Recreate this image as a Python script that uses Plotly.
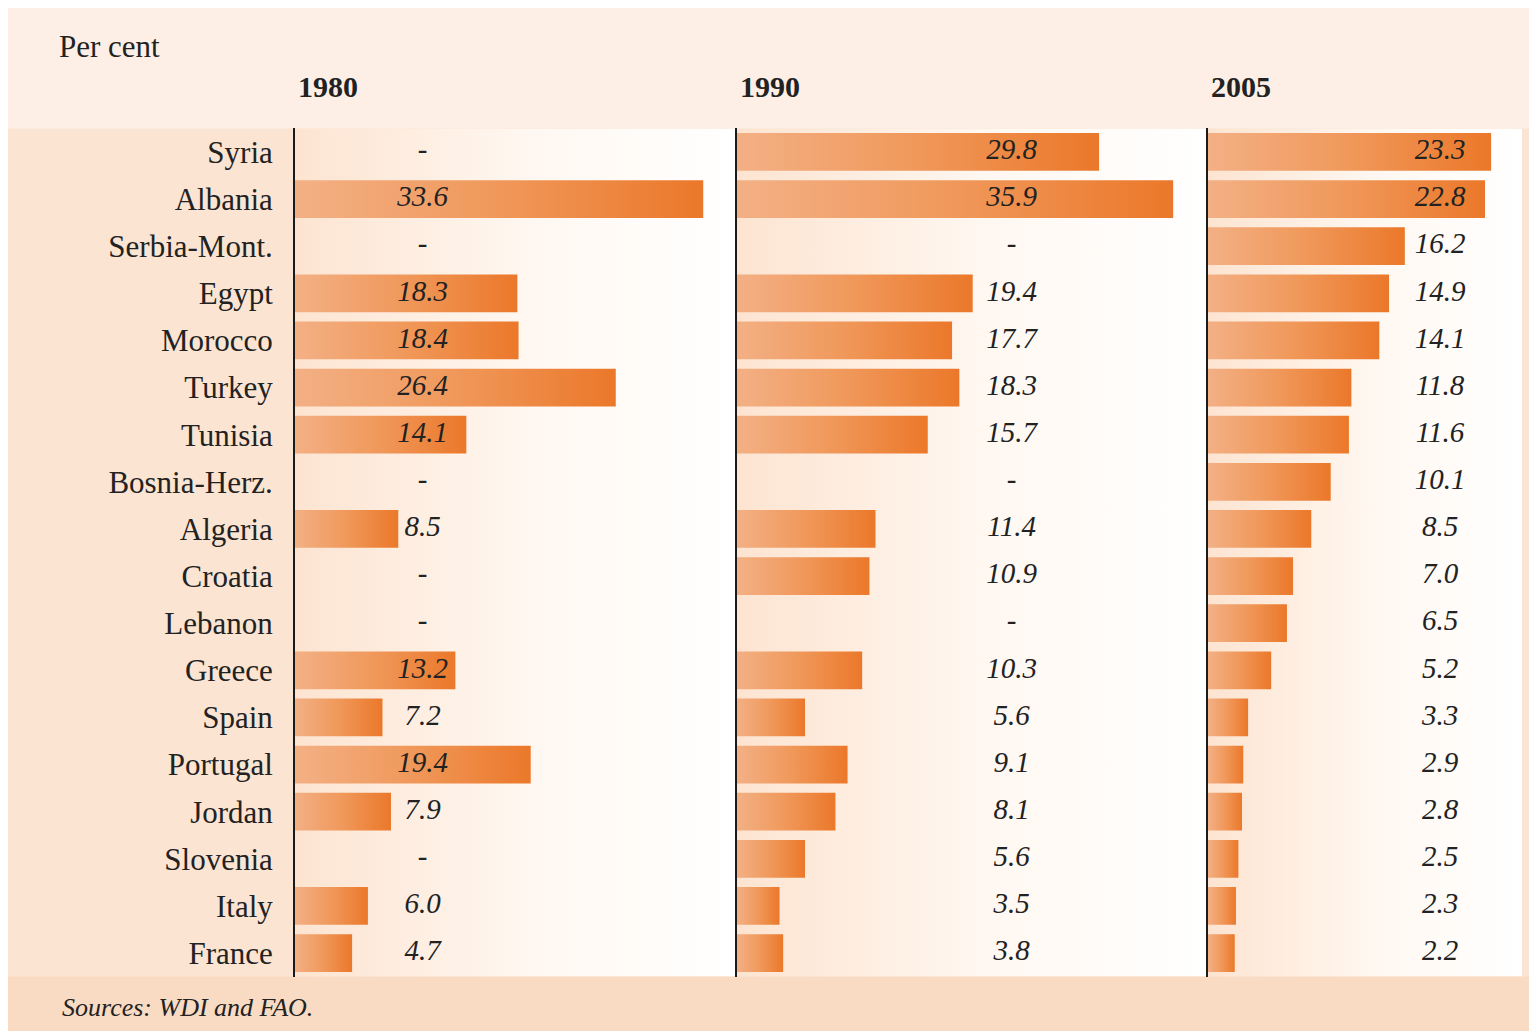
import plotly.graph_objects as go

countries = ["Syria", "Albania", "Serbia-Mont.", "Egypt", "Morocco", "Turkey", "Tunisia",
             "Bosnia-Herz.", "Algeria", "Croatia", "Lebanon", "Greece", "Spain", "Portugal",
             "Jordan", "Slovenia", "Italy", "France"]
years = ["1980", "1990", "2005"]
v1980 = [None, 33.6, None, 18.3, 18.4, 26.4, 14.1, None, 8.5, None, None, 13.2, 7.2, 19.4, 7.9, None, 6.0, 4.7]
v1990 = [29.8, 35.9, None, 19.4, 17.7, 18.3, 15.7, None, 11.4, 10.9, None, 10.3, 5.6, 9.1, 8.1, 5.6, 3.5, 3.8]
v2005 = [23.3, 22.8, 16.2, 14.9, 14.1, 11.8, 11.6, 10.1, 8.5, 7.0, 6.5, 5.2, 3.3, 2.9, 2.8, 2.5, 2.3, 2.2]
series = [v1980, v1990, v2005]

OFF = 8  # page body margin
W, H = 1537 - OFF, 1031 - OFF


def px(xp):
    return (xp - OFF) / W


def py(yp):
    return 1 - (yp - OFF) / H


PXU = 12.15  # pixels per unit
panel_px = [(295, 737), (737, 1208), (1208, 1522)]
label_x = [10.5, 22.6, 19.1]
SERIF = "Liberation Serif"
BAR_CS = [[0, "#f3b085"], [0.5, "#f0985a"], [1, "#eb782a"]]
BG_CS = [[0, "#fde4d1"], [0.55, "#fff8f2"], [1, "#ffffff"]]
half = 0.4
n = len(countries)

fig = go.Figure()
for p, vals in enumerate(series):
    xa = "x" if p == 0 else f"x{p+1}"
    ya = "y" if p == 0 else f"y{p+1}"
    xmax = (panel_px[p][1] - panel_px[p][0]) / PXU
    fig.add_trace(go.Scatter(
        x=[0, xmax, xmax, 0, 0], y=[-0.5, -0.5, n - 0.5, n - 0.5, -0.5],
        fill="toself", mode="lines", line=dict(width=0),
        fillgradient=dict(type="horizontal", colorscale=BG_CS),
        hoverinfo="skip", showlegend=False, xaxis=xa, yaxis=ya))
    for i, v in enumerate(vals):
        if v is None:
            continue
        fig.add_trace(go.Scatter(
            x=[0, v, v, 0, 0], y=[i - half, i - half, i + half, i + half, i - half],
            fill="toself", mode="lines", line=dict(width=0),
            fillgradient=dict(type="horizontal", colorscale=BAR_CS),
            hoverinfo="skip", showlegend=False, xaxis=xa, yaxis=ya))
    texts = ["-" if v is None else f"{v:.1f}" for v in vals]
    fig.add_trace(go.Scatter(
        x=[label_x[p]] * n, y=list(range(n)), mode="text", text=texts,
        textposition="middle center",
        textfont=dict(family=SERIF, size=29, color="#222222", style="italic"),
        hoverinfo="skip", showlegend=False, xaxis=xa, yaxis=ya))

y_dom = [py(976.6), py(128.4)]
layout = dict(
    width=W, height=H,
    margin=dict(l=0, r=0, t=0, b=0),
    paper_bgcolor="#fbe4d2",
    plot_bgcolor="rgba(0,0,0,0)",
    showlegend=False,
    font=dict(family=SERIF, color="#222222"),
)
for p in range(3):
    xk = "xaxis" if p == 0 else f"xaxis{p+1}"
    yk = "yaxis" if p == 0 else f"yaxis{p+1}"
    xmax = (panel_px[p][1] - panel_px[p][0]) / PXU
    layout[xk] = dict(domain=[px(panel_px[p][0]), px(panel_px[p][1])], range=[0, xmax],
                      visible=False, fixedrange=True,
                      anchor="y" if p == 0 else f"y{p+1}")
    layout[yk] = dict(domain=y_dom, range=[n - 0.5, -0.5], showgrid=False, zeroline=False,
                      showline=True, linecolor="#1a1a1a", linewidth=2, ticks="",
                      tickvals=list(range(n)),
                      ticktext=countries if p == 0 else [""] * n,
                      showticklabels=(p == 0),
                      tickfont=dict(family=SERIF, size=31, color="#222222"),
                      ticklabelstandoff=14,
                      anchor="x" if p == 0 else f"x{p+1}")
fig.update_layout(**layout)

shapes = [
    dict(type="rect", xref="paper", yref="paper", x0=0, x1=1, y0=y_dom[1], y1=1,
         fillcolor="#fdefe5", line=dict(width=0), layer="below"),
    dict(type="rect", xref="paper", yref="paper", x0=0, x1=1, y0=0, y1=y_dom[0],
         fillcolor="#f9dbc3", line=dict(width=0), layer="below"),
]
fig.update_layout(shapes=shapes)

annotations = [
    dict(text="Per cent", x=px(57), y=py(47), xref="paper", yref="paper",
         xanchor="left", yanchor="middle", showarrow=False,
         font=dict(family=SERIF, size=31, color="#222222")),
    dict(text="Sources: WDI and FAO.", x=px(60), y=py(1007), xref="paper", yref="paper",
         xanchor="left", yanchor="middle", showarrow=False,
         font=dict(family=SERIF, size=26, color="#222222", style="italic")),
]
for p, yr in enumerate(years):
    annotations.append(dict(text=f"<b>{yr}</b>", x=px(panel_px[p][0] + 1), y=py(86),
                            xref="paper", yref="paper", xanchor="left", yanchor="middle",
                            showarrow=False,
                            font=dict(family=SERIF, size=30, color="#222222")))
fig.update_layout(annotations=annotations)

fig.write_html("out.html")
